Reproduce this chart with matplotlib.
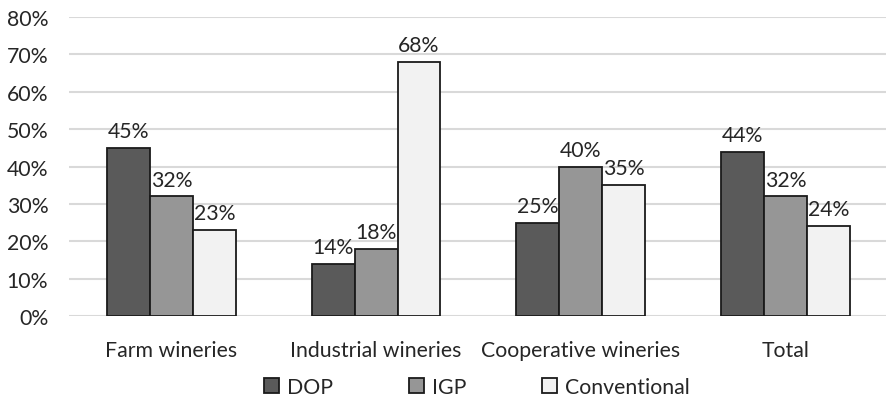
import matplotlib
matplotlib.use("Agg")
import matplotlib.pyplot as plt
import numpy as np
from matplotlib.ticker import MultipleLocator, FuncFormatter

categories = ["Farm wineries", "Industrial wineries", "Cooperative wineries", "Total"]
series_names = ["DOP", "IGP", "Conventional"]
dop = [45, 14, 25, 44]
igp = [32, 18, 40, 32]
conventional = [23, 68, 35, 24]
colors = ["#5a5a5a", "#969696", "#f2f2f2"]

plt.rcParams['font.family'] = ['Lato', 'DejaVu Sans']
fs = 15.3

fig = plt.figure(figsize=(8.87, 4.06), dpi=100)
ax = fig.add_axes([0.0778, 0.219, 0.923, 0.7365])

x = np.arange(len(categories))
w = 0.21
for i, (vals, name, c) in enumerate(zip([dop, igp, conventional], series_names, colors)):
    bars = ax.bar(x + (i - 1) * w, vals, w, color=c, edgecolor="#1a1a1a", linewidth=1.3,
                  label=name, zorder=3)
    for b, v in zip(bars, vals):
        ax.annotate(f"{v}%", (b.get_x() + b.get_width() / 2, v), xytext=(0, 5),
                    textcoords="offset points", ha="center", va="bottom",
                    fontsize=fs, color="#262626")

ax.set_xlim(-0.5, len(categories) - 0.5)
ax.set_ylim(0, 80)
ax.yaxis.set_major_locator(MultipleLocator(10))
ax.yaxis.set_major_formatter(FuncFormatter(lambda v, p: f"{int(v)}%"))
ax.grid(axis="y", color="#d9d9d9", linewidth=1.5, zorder=0)
ax.set_axisbelow(True)
for s in ax.spines.values():
    s.set_visible(False)
ax.tick_params(axis="both", length=0, labelsize=fs, colors="#262626")
ax.tick_params(axis="y", pad=15)
ax.tick_params(axis="x", pad=17)
ax.set_xticks(x)
ax.set_xticklabels(categories)

leg = fig.legend(loc="center", bbox_to_anchor=(477 / 887, 1 - 388 / 406), ncol=3,
                 frameon=False, fontsize=fs, handlelength=0.7, handleheight=0.7,
                 handletextpad=0.4, columnspacing=3.55)
for t in leg.get_texts():
    t.set_color("#262626")

fig.savefig("out.png", dpi=100)
